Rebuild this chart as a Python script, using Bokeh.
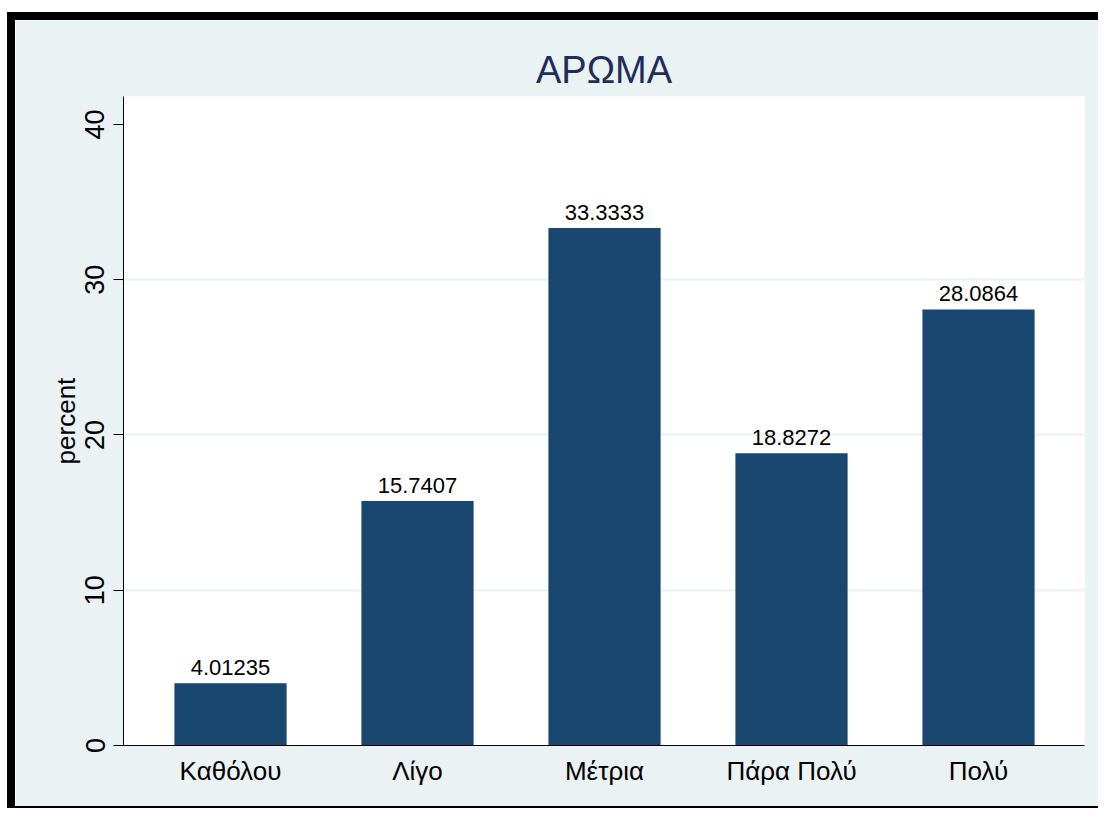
from bokeh.plotting import figure
from bokeh.models import Range1d, FixedTicker, ColumnDataSource
from bokeh.core.properties import value
from bokeh.embed import file_html
from bokeh.resources import INLINE

categories = ["Καθόλου", "Λίγο", "Μέτρια", "Πάρα Πολύ", "Πολύ"]
percent = [4.01235, 15.7407, 33.3333, 18.8272, 28.0864]
bar_labels = ["4.01235", "15.7407", "33.3333", "18.8272", "28.0864"]
y_ticks = [0, 10, 20, 30, 40]

FONT = "Liberation Sans"
BG = "#eaf2f3"
BAR = "#1a476f"

xs = list(range(1, len(categories) + 1))
src = ColumnDataSource(dict(x=xs, top=percent, label=bar_labels))

p = figure(width=1091, height=796, output_backend="svg", toolbar_location=None,
           x_range=Range1d(0.4278, 5.5668), y_range=Range1d(0, 41.8),
           min_border_left=108, min_border_right=22, min_border_top=76, min_border_bottom=71)
p.styles = {"margin-left": "7px", "margin-top": "12px", "border-left": "8px solid black",
            "border-top": "8px solid black", "border-bottom": "2px solid black"}
p.border_fill_color = BG
p.background_fill_color = "white"
p.outline_line_color = None

p.vbar(x="x", top="top", width=0.6, bottom=0, source=src, fill_color=BAR, line_color=None)
p.text(x="x", y="top", text="label", source=src, text_align="center", text_baseline="bottom",
       y_offset=-8, text_font=value(FONT), text_font_size="22px", text_color="black")

# title
p.title.text = "ΑΡΩΜΑ"
p.title.align = "center"
p.title.text_font = FONT
p.title.text_font_size = "38px"
p.title.text_font_style = "normal"
p.title.text_color = "#1f2d5c"
p.title.offset = 3
p.title.standoff = 12

# x axis
xa = p.xaxis[0]
xa.ticker = FixedTicker(ticks=xs)
xa.major_label_overrides = {i: c for i, c in zip(xs, categories)}
xa.major_tick_out = 0
xa.major_tick_in = 0
xa.minor_tick_out = 0
xa.minor_tick_in = 0
xa.major_label_standoff = 10
xa.major_label_text_font = FONT
xa.major_label_text_font_size = "26px"
xa.major_label_text_color = "black"
xa.axis_line_color = "black"

# y axis
ya = p.yaxis[0]
ya.ticker = FixedTicker(ticks=y_ticks)
ya.major_tick_out = 10
ya.major_tick_in = 0
ya.minor_tick_out = 0
ya.minor_tick_in = 0
ya.major_label_orientation = "vertical"
ya.major_label_standoff = 9
ya.major_label_text_font = FONT
ya.major_label_text_font_size = "27px"
ya.major_label_text_color = "black"
ya.axis_label = "percent"
ya.axis_label_text_font = FONT
ya.axis_label_text_font_size = "26px"
ya.axis_label_text_font_style = "normal"
ya.axis_label_text_color = "black"
ya.axis_label_standoff = 2
ya.axis_line_color = "black"

p.xgrid.visible = False
p.ygrid.ticker = FixedTicker(ticks=[10, 20, 30])
p.ygrid.grid_line_color = BG
p.ygrid.grid_line_width = 2

open("out.html", "w").write(file_html(p, INLINE))
